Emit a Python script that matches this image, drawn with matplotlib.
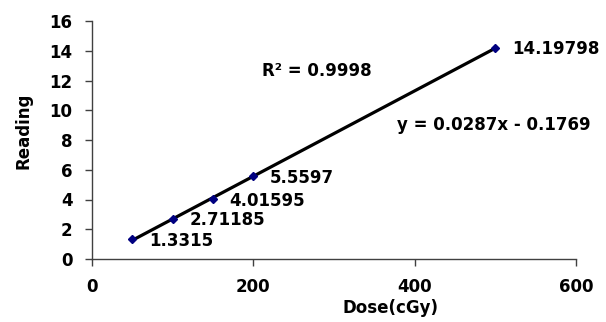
import matplotlib
matplotlib.use("Agg")
import matplotlib.pyplot as plt
import numpy as np

dose = [50, 100, 150, 200, 500]
reading = [1.3315, 2.71185, 4.01595, 5.5597, 14.19798]
point_labels = ["1.3315", "2.71185", "4.01595", "5.5597", "14.19798"]
slope = 0.0287
intercept = -0.1769
x_ticks = [0, 200, 400, 600]
y_ticks = [0, 2, 4, 6, 8, 10, 12, 14, 16]

plt.rcParams['font.family'] = ['DejaVu Sans']
plt.rcParams['font.weight'] = 'bold'

fig = plt.figure(figsize=(6.06, 3.22), dpi=100)
ax = fig.add_axes([92/606, 1-259/322, (576-92)/606, (259-21)/322])

xf = np.array([min(dose), max(dose)])
ax.plot(xf, slope*xf + intercept, color='black', lw=2.3, zorder=2, solid_capstyle='butt')
ax.plot(dose, reading, linestyle='none', marker='D', markersize=4.5, color='#000080', zorder=3)

for x, y, lab in zip(dose, reading, point_labels):
    ax.annotate(lab, (x, y), xytext=(12, -1), textcoords='offset points',
                ha='left', va='center', fontsize=12, fontweight='bold', color='black')

ax.set_xlim(0, 600)
ax.set_ylim(0, 16)
ax.set_xticks(x_ticks)
ax.set_yticks(y_ticks)
ax.tick_params(axis='both', direction='out', labelsize=12, colors='#404040', labelcolor='black', width=1)
ax.tick_params(axis='y', length=5, pad=9)
ax.tick_params(axis='x', length=5, pad=9)
for lbl in ax.get_xticklabels() + ax.get_yticklabels():
    lbl.set_fontweight('bold')
for s in ['top', 'right']:
    ax.spines[s].set_visible(False)
for s in ['left', 'bottom']:
    ax.spines[s].set_color('#404040')
    ax.spines[s].set_linewidth(1)

fig.text(317/606, 1-71/322, "R² = 0.9998", ha='center', va='center', fontsize=12, fontweight='bold')
fig.text(494/606, 1-125/322, "y = 0.0287x - 0.1769", ha='center', va='center', fontsize=12, fontweight='bold')
fig.text(390/606, 1-308/322, "Dose(cGy)", ha='center', va='center', fontsize=12, fontweight='bold')
fig.text(23/606, 1-131/322, "Reading", ha='center', va='center', rotation=90, fontsize=12, fontweight='bold')

fig.savefig("out.png", dpi=100)
